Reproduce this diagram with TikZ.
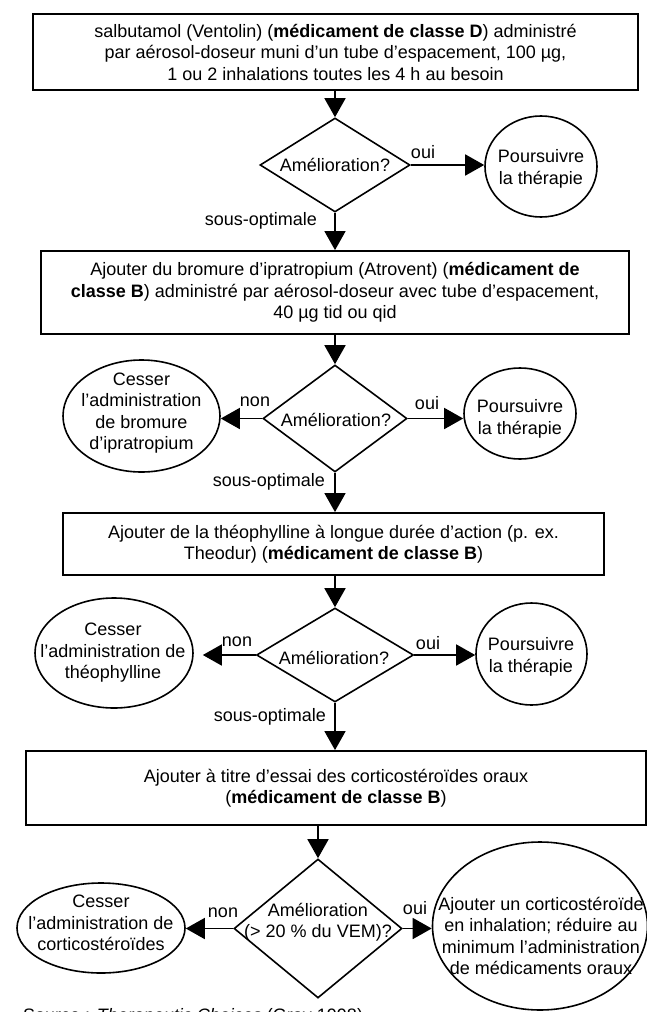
\documentclass[tikz,border=0pt]{standalone}
\usepackage{fontspec}
\setmainfont{Liberation Sans}
\usetikzlibrary{shapes.geometric,arrows.meta}
\begin{document}
\begin{tikzpicture}[x=1pt,y=-1pt,
  every node/.style={font=\fontsize{18}{21.5}\selectfont, inner sep=0pt, align=center},
  stepbox/.style={draw, line width=1.8pt, rectangle},
  dia/.style={draw, line width=1.6pt, diamond},
  oval/.style={draw, line width=1.6pt, ellipse},
  arr/.style={line width=1.6pt, -{Triangle[length=19pt,width=21pt]}}
]
\useasboundingbox (0,0) rectangle (647,1012);

% --- level 1
\node[stepbox, minimum width=605pt, minimum height=76pt] (b1) at (335.5,52)
  {salbutamol (Ventolin) (\textbf{médicament de classe D}) administré\\par aérosol-doseur muni d’un tube d’espacement, 100 µg,\\1 ou 2 inhalations toutes les 4 h au besoin};
\node[dia, minimum width=150pt, minimum height=94pt] (d1) at (335,165) {};
\node (t1) at (d1) {Amélioration?};
\node[oval, minimum width=112pt, minimum height=101pt] (c1) at (541,166.5) {};
\node (tc1) at (541,169) {Poursuivre\\la thérapie};
\node (oui1) at (423,152) {oui};
\node[anchor=east] (so1) at (317,221) {sous-optimale};
\draw[arr] (b1.south -| d1.north) -- (d1.north);
\draw[arr] (d1.east) -- (d1.east -| c1.west);

% --- level 2
\node[stepbox, minimum width=588pt, minimum height=83pt] (b2) at (335,292.5)
  {Ajouter du bromure d’ipratropium (Atrovent) (\textbf{médicament de}\\\textbf{classe B}) administré par aérosol-doseur avec tube d’espacement,\\40 µg tid ou qid};
\draw[arr] (d1.south) -- (d1.south |- b2.north);
\node[dia, minimum width=144pt, minimum height=107pt] (d2) at (335,418.5) {};
\node (t2) at (336,420) {Amélioration?};
\node[oval, minimum width=157pt, minimum height=112pt] (e2) at (141.5,416) {};
\node (te2) at (141.5,413) {Cesser\\l’administration\\de bromure\\d’ipratropium};
\node[oval, minimum width=112pt, minimum height=91pt] (c2) at (520,413.5) {};
\node (tc2) at (520,419) {Poursuivre\\la thérapie};
\node (non2) at (255,402) {non};
\node (oui2) at (427,403) {oui};
\node[anchor=east] (so2) at (325,482) {sous-optimale};
\draw[arr] (b2.south -| d2.north) -- (d2.north);
\draw[arr] (d2.west) -- (d2.west -| e2.east);
\draw[arr] (d2.east) -- (d2.east -| c2.west);

% --- level 3
\node[stepbox, minimum width=541pt, minimum height=62pt] (b3) at (333.5,544)
  {Ajouter de la théophylline à longue durée d’action (p. ex.\\Theodur) (\textbf{médicament de classe B})};
\draw[arr] (d2.south) -- (d2.south |- b3.north);
\node[dia, minimum width=157pt, minimum height=94pt] (d3) at (335,655) {};
\node (t3) at (334,658) {Amélioration?};
\node[oval, minimum width=158pt, minimum height=110pt] (e3) at (114,653) {};
\node (te3) at (113,653) {Cesser\\l’administration de\\théophylline};
\node[oval, minimum width=111pt, minimum height=102pt] (c3) at (531.5,654) {};
\node (tc3) at (531,657) {Poursuivre\\la thérapie};
\node (non3) at (237,642) {non};
\node (oui3) at (428,643) {oui};
\node[anchor=east] (so3) at (326,717) {sous-optimale};
\draw[arr] (b3.south -| d3.north) -- (d3.north);
\draw[arr, shorten >=9pt] (d3.west) -- (d3.west -| e3.east);
\draw[arr] (d3.east) -- (d3.east -| c3.west);

% --- level 4
\node[stepbox, minimum width=620pt, minimum height=74pt] (b4) at (336,788)
  {Ajouter à titre d’essai des corticostéroïdes oraux\\(\textbf{médicament de classe B})};
\draw[arr] (d3.south) -- (d3.south |- b4.north);
\node[dia, minimum width=168pt, minimum height=139pt] (d4) at (318,928.5) {};
\node (t4) at (318,922) {Amélioration\\(> 20 \% du VEM)?};
\node[oval, minimum width=168pt, minimum height=90pt] (e4) at (101,928) {};
\node (te4) at (101,923) {Cesser\\l’administration de\\corticostéroïdes};
\node[oval, minimum width=215pt, minimum height=168pt] (c4) at (540,926) {};
\node (tc4) at (541,936) {Ajouter un corticostéroïde\\en inhalation; réduire au\\minimum l’administration\\de médicaments oraux};
\node (non4) at (223,913) {non};
\node (oui4) at (415,908) {oui};
\draw[arr] (b4.south -| d4.north) -- (d4.north);
\draw[arr] (d4.west) -- (d4.west -| e4.east);
\draw[arr] (d4.east) -- (d4.east -| c4.west);

\node[anchor=base west] (src) at (23,1021) {Source : \textit{Therapeutic Choices} (Gray 1998)};
\end{tikzpicture}
\end{document}
